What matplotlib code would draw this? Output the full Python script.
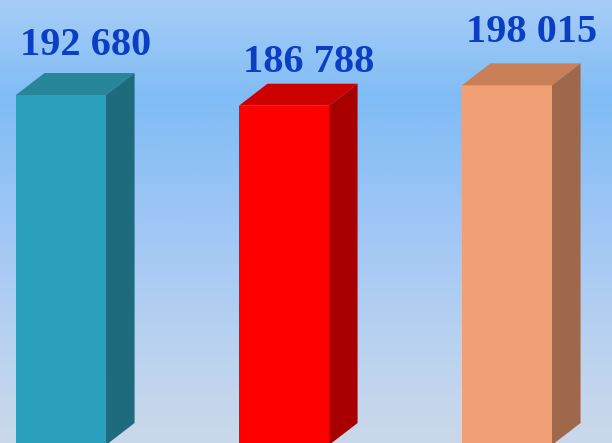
import numpy as np
import matplotlib
matplotlib.use("Agg")
import matplotlib.pyplot as plt
from matplotlib.patches import Polygon
from matplotlib.colors import LinearSegmentedColormap

values = [192680, 186788, 198015]
labels = ["192 680", "186 788", "198 015"]
front_colors = ["#2aa0be", "#ff0000", "#f0a074"]
top_colors = ["#27869a", "#cc0000", "#c98058"]
side_colors = ["#1e6b7e", "#a80000", "#a0684a"]

fig = plt.figure(figsize=(6.12, 4.43), dpi=100)
ax = fig.add_axes([0, 0, 1, 1])

# background gradient
bg = LinearSegmentedColormap.from_list(
    "bg", [(0.0, "#a6cdf7"), (0.22, "#80bcf5"), (0.55, "#a4c8f5"),
           (0.85, "#bfd5ee"), (1.0, "#cbd8ea")])
grad = np.linspace(0, 1, 256).reshape(-1, 1)
ax.imshow(grad, cmap=bg, aspect="auto", extent=[0, 1, 0, 1],
          transform=ax.transAxes, zorder=0, interpolation="bicubic")

x = np.arange(len(values))
width = 0.404
dx = 0.128          # depth in x units
dy = 12100          # depth in value units

ax.set_xlim(-0.2735, 2.471)
ax.set_ylim(1100, 244970)

ax.bar(x, values, width=width, color=front_colors, zorder=2, linewidth=0)
for xi, v, tc, sc in zip(x, values, top_colors, side_colors):
    l, r = xi - width / 2, xi + width / 2
    top = Polygon([(l, v), (r, v), (r + dx, v + dy), (l + dx, v + dy)],
                  closed=True, facecolor=tc, edgecolor="none", zorder=2)
    side = Polygon([(r, 0), (r + dx, dy), (r + dx, v + dy), (r, v)],
                   closed=True, facecolor=sc, edgecolor="none", zorder=2)
    ax.add_patch(top)
    ax.add_patch(side)

offsets = [21800, 18300, 24000]
for xi, v, lab, off in zip(x, values, labels, offsets):
    ax.text(xi + 0.11, v + off, lab, ha="center", va="baseline",
            fontsize=29, fontweight="bold", family="Liberation Serif",
            color="#0c3ec4", zorder=3)

ax.axis("off")
fig.savefig("out.png", dpi=100)
